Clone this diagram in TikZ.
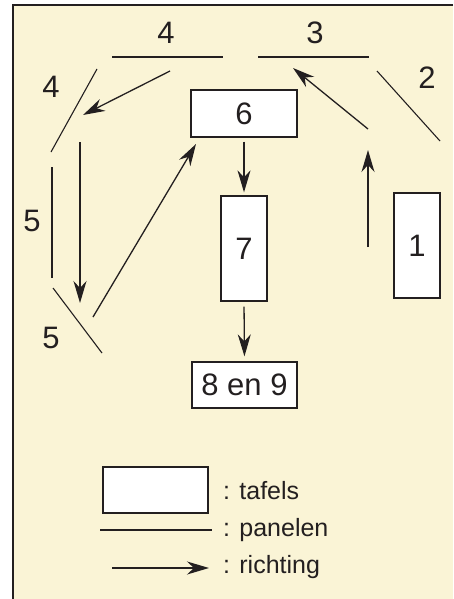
\documentclass[tikz,border=0pt]{standalone}
\usepackage{fontspec}
\setmainfont{Liberation Sans}
\usetikzlibrary{arrows.meta}
\definecolor{bg}{RGB}{250,244,214}
\definecolor{ink}{RGB}{35,31,32}
\begin{document}
\begin{tikzpicture}[x=1pt,y=-1pt,
 panel/.style={draw=ink,line width=1.1pt},
 flow/.style={draw=ink,line width=1.3pt,-{Stealth[length=22pt,width=13pt,inset=7pt]}},
 tafel/.style={draw=ink,fill=white,line width=1.3pt,inner sep=0pt,text=ink,font=\fontsize{31}{31}\selectfont},
 lbl/.style={font=\fontsize{31}{31}\selectfont,text=ink,inner sep=0pt},
 leg/.style={font=\fontsize{25}{25}\selectfont,text=ink,anchor=base west,inner sep=0pt}]
\useasboundingbox (0,0) rectangle (453,599);
\fill[bg] (13,5) rectangle (453,599);
\draw[ink,line width=1.5pt] (453,5) -- (13,5) -- (13,599);

% tables
\node[tafel,minimum width=106pt,minimum height=47pt] (t6) at (244,113.5) {6};
\node[tafel,minimum width=46pt,minimum height=105pt] (t7) at (244,248.5) {7};
\node[tafel,minimum width=105pt,minimum height=46pt] (t89) at (244.5,385) {8 en 9};
\node[tafel,minimum width=46pt,minimum height=105pt] (t1) at (417,245.5) {1};

% panels
\draw[panel] (112,57) -- (223,57);
\draw[panel] (258,57) -- (369,57);
\draw[panel] (377,71) -- (440,141);
\draw[panel] (97,69) -- (51,152);
\draw[panel] (52,167) -- (52,278);
\draw[panel] (53,288) -- (102,353);

% panel labels
\node[lbl] (l4a) at (166,32.5) {4};
\node[lbl] (l3) at (315,32.5) {3};
\node[lbl] (l2) at (427,77.5) {2};
\node[lbl] (l4b) at (51,86.5) {4};
\node[lbl] (l5a) at (32,221) {5};
\node[lbl] (l5b) at (51,337.5) {5};

% route coordinates
\coordinate (a1s) at (368,247); \coordinate (a1e) at (368,150);
\coordinate (a2s) at (368,129); \coordinate (a2e) at (293,68);
\coordinate (a3s) at (170,71);  \coordinate (a3e) at (83,115);
\coordinate (a4s) at (80,142);  \coordinate (a4e) at (80,303);
\coordinate (a5s) at (93,317);  \coordinate (a5e) at (196,144);

\draw[flow] (a1s) -- (a1e);
\draw[flow] (a2s) -- (a2e);
\draw[flow] (a3s) -- (a3e);
\draw[flow] (a4s) -- (a4e);
\draw[flow] (a5s) -- (a5e);
\draw[flow,shorten <=4pt,shorten >=3pt] (t6.south) -- (t7.north);
\draw[flow,shorten <=5pt,shorten >=5pt] (t7.south) -- (t89.north);

% legend
\node[tafel,minimum width=105pt,minimum height=46pt] (lbox) at (155.5,490) {};
\coordinate (lp1) at (100,530); \coordinate (lp2) at (212,530);
\draw[panel] (lp1) -- (lp2);
\coordinate (la1) at (112,568); \coordinate (la2) at (209,568);
\draw[flow] (la1) -- (la2);
\node[leg] (tx1) at (223,499) {: tafels};
\node[leg] (tx2) at (223,536) {: panelen};
\node[leg] (tx3) at (223,573) {: richting};
\end{tikzpicture}
\end{document}
